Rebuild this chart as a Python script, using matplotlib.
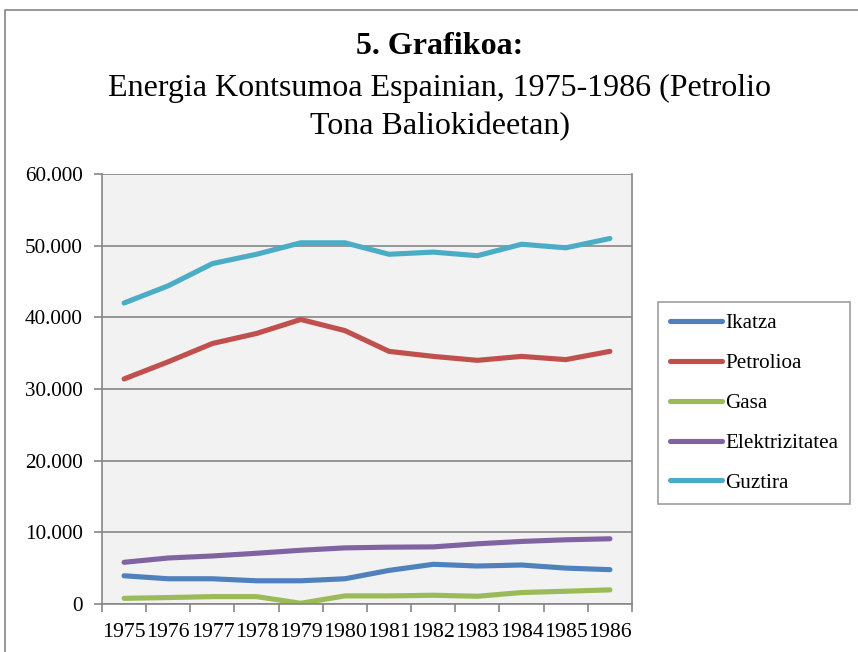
import matplotlib
matplotlib.use("Agg")
import matplotlib.pyplot as plt
from matplotlib.patches import Rectangle
from matplotlib.ticker import FuncFormatter, FixedLocator

plt.rcParams['font.family'] = ['Liberation Serif', 'DejaVu Serif']

years = ['1975', '1976', '1977', '1978', '1979', '1980', '1981', '1982', '1983', '1984', '1985', '1986']
ikatza = [3940, 3520, 3520, 3240, 3240, 3520, 4690, 5540, 5300, 5440, 5010, 4790]
petrolioa = [31400, 33800, 36350, 37750, 39700, 38150, 35250, 34550, 34000, 34550, 34100, 35250]
gasa = [790, 900, 1030, 1030, 100, 1130, 1130, 1220, 1080, 1600, 1780, 1970]
elektrizitatea = [5820, 6420, 6700, 7080, 7500, 7830, 7930, 7970, 8400, 8730, 8960, 9100]
guztira = [42000, 44400, 47500, 48800, 50400, 50400, 48800, 49100, 48600, 50200, 49700, 51000]

series_names = ['Ikatza', 'Petrolioa', 'Gasa', 'Elektrizitatea', 'Guztira']
series_vals = [ikatza, petrolioa, gasa, elektrizitatea, guztira]
colors = ['#4F81BD', '#C0504D', '#9BBB59', '#8064A2', '#4BACC6']

W, H = 858, 652
fig = plt.figure(figsize=(W / 100, H / 100), dpi=100)
fig.patch.set_facecolor('white')

# outer chart frame
fig.patches.append(Rectangle((5 / W, -0.1), 1.2, 1 - 10 / H + 0.1, transform=fig.transFigure,
                             fill=False, edgecolor='#868686', linewidth=1.2))

ax = fig.add_axes([102 / W, 1 - 604 / H, (632 - 102) / W, (604 - 174) / H])
ax.set_facecolor('#F2F2F2')

x = list(range(len(years)))
for name, vals, c in zip(series_names, series_vals, colors):
    ax.plot(x, vals, color=c, linewidth=3.7, solid_capstyle='round', solid_joinstyle='round', label=name)

ax.set_xlim(-0.5, len(years) - 0.5)
ax.set_ylim(0, 60000)
ax.set_yticks(range(0, 60001, 10000))
ax.yaxis.set_major_formatter(FuncFormatter(lambda v, p: '0' if v == 0 else f'{int(v):,}'.replace(',', '.')))
ax.grid(axis='y', color='#868686', linewidth=1.2)
ax.set_axisbelow(True)

ax.set_xticks(x)
ax.set_xticklabels(years)
ax.xaxis.set_minor_locator(FixedLocator([i - 0.5 for i in range(len(years) + 1)]))
ax.tick_params(axis='x', which='major', length=0, pad=13.5, labelsize=15.7)
ax.tick_params(axis='x', which='minor', length=6, color='#868686', width=1.2)
ax.tick_params(axis='y', length=6, color='#868686', width=1.2, labelsize=15.2, pad=8)

for s in ['left', 'bottom', 'right']:
    ax.spines[s].set_color('#868686')
    ax.spines[s].set_linewidth(1.2)
ax.spines['top'].set_visible(False)

leg = fig.legend(loc='upper left', bbox_to_anchor=(658 / W, 1 - 302 / H), bbox_transform=fig.transFigure,
                 frameon=True, fancybox=False, fontsize=15.2, handlelength=2.5, handletextpad=0.12,
                 labelspacing=0.95, borderpad=0.55, borderaxespad=0)
leg.get_frame().set_edgecolor('#868686')
leg.get_frame().set_linewidth(1.2)

cx = 440 / W
fig.text(cx, 1 - 47 / H, '5. Grafikoa:', ha='center', va='center', fontsize=23, fontweight='bold')
fig.text(cx, 1 - 88 / H, 'Energia Kontsumoa Espainian, 1975-1986 (Petrolio', ha='center', va='center', fontsize=23)
fig.text(cx, 1 - 127 / H, 'Tona Baliokideetan)', ha='center', va='center', fontsize=23)

fig.savefig('out.png', dpi=100)
